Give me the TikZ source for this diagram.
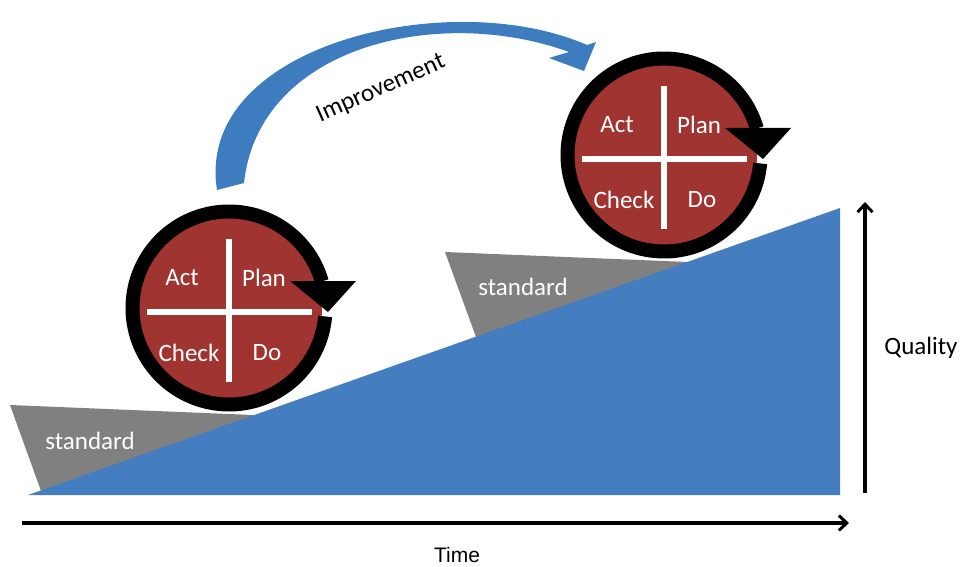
\documentclass[tikz,border=0pt]{standalone}
\usepackage{fontspec}
\setmainfont{Carlito}
\newfontfamily\arialfont{Liberation Sans}
\usetikzlibrary{arrows.meta,calc}
\definecolor{brick}{RGB}{160,52,48}
\definecolor{stepblue}{RGB}{68,125,192}
\definecolor{wedgegray}{RGB}{128,128,128}
\definecolor{arrowblue}{RGB}{62,124,192}
\tikzset{
  redcirc/.style={circle,fill=brick,minimum size=186pt,inner sep=0pt},
  ring/.style={line width=14pt,black},
  crossline/.style={white,line width=5.5pt},
  cyctext/.style={white,font=\fontsize{25}{30}\selectfont,inner sep=0pt},
  stdtext/.style={white,font=\fontsize{25}{30}\selectfont,inner sep=0pt},
  axislbl/.style={black,inner sep=0pt},
  axisline/.style={line width=3.4pt,-{Straight Barb[length=8pt,width=15pt,line width=3pt]}},
}
\newcommand{\pdcacycle}[3]{%
  \node[redcirc] (#1) at (#2,#3) {};
  \draw[ring] ([shift={(-5:96.5)}]#1.center) arc[start angle=-5,end angle=-344,radius=96.5pt];
  \fill[black] ([shift={(61,27)}]#1.center) -- ([shift={(127,27)}]#1.center) -- ([shift={(99,-4)}]#1.center) -- cycle;
  \draw[crossline] ([shift={(0,69)}]#1.center) -- ([shift={(0,-74)}]#1.center);
  \draw[crossline] ([shift={(-82,-4)}]#1.center) -- ([shift={(83,-4)}]#1.center);
  \node[cyctext] (#1act) at ([shift={(-47,30)}]#1.center) {Act};
  \node[cyctext] (#1plan) at ([shift={(35,30)}]#1.center) {Plan};
  \node[cyctext] (#1check) at ([shift={(-40,-45)}]#1.center) {Check};
  \node[cyctext] (#1do) at ([shift={(38,-45)}]#1.center) {Do};
}
\begin{document}
\begin{tikzpicture}[x=1pt,y=1pt]
\useasboundingbox (0,0) rectangle (961,-567);
% standard wedges (extended under the ramp to avoid seams)
\fill[wedgegray] (10,-405) -- (265,-415.5) -- (265,-470) -- (41,-491) -- cycle;
\fill[wedgegray] (445,-252) -- (695,-262.3) -- (695,-330) -- (476,-337) -- cycle;
% quality ramp
\fill[stepblue] (28,-495) -- (840,-495) -- (840,-208) -- cycle;
\node[stdtext] (std1) at (90,-441) {standard};
\node[stdtext] (std2) at (523,-287) {standard};
% improvement arrow
\fill[arrowblue] (217,-190) .. controls (194,-45) and (450,15) .. (587,-45)
  -- (596,-42) -- (584,-71) -- (549,-58) -- (569,-52)
  .. controls (440,-5) and (259,-45) .. (244,-183) -- cycle;
\node[cyctext,black,rotate=24] (impr) at (381,-89) {Improvement};
% PDCA cycles
\pdcacycle{ca}{229}{-308}
\pdcacycle{cb}{664}{-155}
% axes
\coordinate (tS) at (22,-523);
\coordinate (tE) at (849,-523);
\coordinate (qS) at (865,-493);
\coordinate (qE) at (865,-202);
\draw[axisline] (tS) -- (tE);
\draw[axisline] (qS) -- (qE);
\node[axislbl,font=\arialfont\fontsize{21}{25}\selectfont] (time) at (457,-555) {Time};
\node[axislbl,font=\fontsize{25}{30}\selectfont] (qual) at (921,-348) {Quality};
\end{tikzpicture}
\end{document}
